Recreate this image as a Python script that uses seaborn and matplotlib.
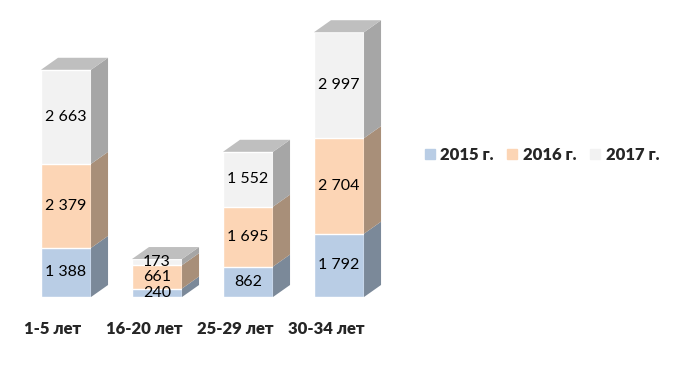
import pandas as pd
import numpy as np
import matplotlib.pyplot as plt
import seaborn as sns
from matplotlib.patches import Patch

# ── Data ─────────────────────────────────────────────────────────────────────
age_groups = ["1-5 лет", "16-20 лет", "25-29 лет", "30-34 лет"]
years = ["2015 г.", "2016 г.", "2017 г."]
v2015 = [1388, 240, 862, 1792]
v2016 = [2379, 661, 1695, 2704]
v2017 = [2663, 173, 1552, 2997]

front = {"2015 г.": "#B9CDE5", "2016 г.": "#FCD5B5", "2017 г.": "#F2F2F2"}
side = {"2015 г.": "#7B8999", "2016 г.": "#A88F79", "2017 г.": "#A6A6A6"}
top_col = "#BFBFBF"

rows = []
for i, age in enumerate(age_groups):
    base = 0
    for y, vals in zip(years, [v2015, v2016, v2017]):
        rows.append({"age": age, "pos": i, "year": y, "value": vals[i],
                     "bottom": base, "top": base + vals[i]})
        base += vals[i]
df = pd.DataFrame(rows)

# ── Figure ───────────────────────────────────────────────────────────────────
sns.set_theme(style="white")
plt.rcParams["font.family"] = ["Lato", "DejaVu Sans"]

W, H = 682, 367
fig = plt.figure(figsize=(W / 100, H / 100), dpi=100)
# axes placed in pixel terms: bar centres at 66 + 91*i, baseline at y=297
ax_l, ax_r = 20, 420
ax_b, ax_t = 297, 15
ax = fig.add_axes([ax_l / W, (H - ax_b) / H, (ax_r - ax_l) / W, (ax_b - ax_t) / H])

bw = 0.55
for y in reversed(years):
    sub = df[df["year"] == y]
    sns.barplot(data=sub, x="age", y="top", color=front[y], width=bw,
                saturation=1, ax=ax, order=age_groups)

dx, dy = 0.187, 340
for _, r in df.iterrows():
    x1 = r["pos"] + bw / 2
    ax.fill([x1, x1 + dx, x1 + dx, x1],
            [r["bottom"], r["bottom"] + dy, r["top"] + dy, r["top"]],
            color=side[r["year"]], lw=0, zorder=3)
    if r["year"] == years[-1]:
        x0 = r["pos"] - bw / 2
        ax.fill([x0, x1, x1 + dx, x0 + dx],
                [r["top"], r["top"], r["top"] + dy, r["top"] + dy],
                color=top_col, lw=0, zorder=3)
    label = f"{r['value']:,}".replace(",", " ")
    ax.text(r["pos"], (r["bottom"] + r["top"]) / 2, label, ha="center",
            va="center", fontsize=11.5, color="black", zorder=4)

ax.set_xlim((ax_l - 66) / 91, (ax_r - 66) / 91)
ax.set_ylim(0, (ax_b - ax_t) * 28.3)
ax.set_xticks(np.arange(len(age_groups)) - 0.143)
ax.set_xticklabels(age_groups, fontweight="heavy", fontsize=12)
ax.tick_params(axis="x", length=0, pad=17)
ax.set_yticks([])
ax.set_xlabel("")
ax.set_ylabel("")
sns.despine(ax=ax, left=True, bottom=True)

handles = [Patch(color=front[y]) for y in years]
fig.legend(handles, years, loc="center", bbox_to_anchor=(542 / W, (H - 155) / H),
           ncol=3, frameon=False, handlelength=0.6, handleheight=0.6,
           handletextpad=0.35, columnspacing=0.8,
           prop={"weight": "heavy", "size": 12})

plt.savefig("out.png", dpi=100)
plt.close()
